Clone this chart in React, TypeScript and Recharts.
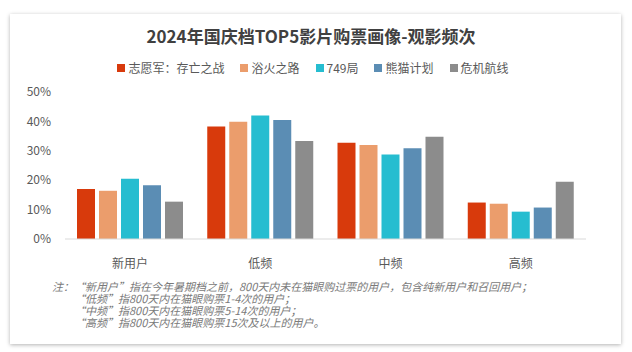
import { BarChart, Bar, XAxis, YAxis, Legend } from 'recharts';

const categories = ['新用户', '低频', '中频', '高频'];
const seriesNames = ['志愿军：存亡之战', '浴火之路', '749局', '熊猫计划', '危机航线'];
const zhiyuanjun = [17.0, 38.3, 32.7, 12.4];
const yuhuo = [16.4, 39.9, 32.0, 12.0];
const ju749 = [20.5, 42.0, 28.7, 9.3];
const xiongmao = [18.3, 40.5, 30.9, 10.7];
const weiji = [12.7, 33.3, 34.8, 19.5];
const yTicks = [0, 10, 20, 30, 40, 50];
const notes = [
  '注：“新用户”指在今年暑期档之前，800天内未在猫眼购过票的用户，包含纯新用户和召回用户；',
  '“低频”指800天内在猫眼购票1-4次的用户；',
  '“中频”指800天内在猫眼购票5-14次的用户；',
  '“高频”指800天内在猫眼购票15次及以上的用户。',
];

const COLORS = ['#d83a0c', '#eb9d6c', '#26bdd0', '#5b8db4', '#8c8c8c'];
const seriesValues = [zhiyuanjun, yuhuo, ju749, xiongmao, weiji];

const data = categories.map((name, i) => {
  const row: Record<string, string | number> = { name };
  seriesNames.forEach((s, j) => {
    row[s] = seriesValues[j][i];
  });
  return row;
});

const FONT = '"Noto Sans CJK SC", "Noto Sans", sans-serif';

function LegendContent() {
  return (
    <div style={{ display: 'flex', justifyContent: 'center', gap: 16, fontSize: 12, color: '#595959' }}>
      {seriesNames.map((s, i) => (
        <span key={s} style={{ display: 'flex', alignItems: 'center' }}>
          <span style={{ width: 8, height: 8, background: COLORS[i], marginRight: 3, display: 'inline-block' }} />
          {s}
        </span>
      ))}
    </div>
  );
}

export default function App() {
  return (
    <div style={{ position: 'absolute', left: 0, top: 0, width: 632, height: 352, background: '#fff', fontFamily: FONT }}>
      <div
        style={{
          position: 'absolute',
          left: 10,
          top: 14,
          width: 611,
          height: 330,
          background: '#fff',
          boxShadow: '0 1px 4px rgba(0,0,0,0.3)',
        }}
      />
      <div
        style={{
          position: 'absolute',
          top: 23,
          left: 0,
          width: 622,
          textAlign: 'center',
          fontSize: 17,
          fontWeight: 'bold',
          color: '#404040',
        }}
      >
        2024年国庆档TOP5影片购票画像-观影频次
      </div>
      <div style={{ position: 'absolute', left: 0, top: 0 }}>
        <BarChart
          width={632}
          height={352}
          data={data}
          margin={{ top: 92, right: 46, bottom: 83, left: 15 }}
          barSize={18}
          barGap={4}
        >
          <XAxis
            dataKey="name"
            axisLine={{ stroke: '#d9d9d9' }}
            tickLine={false}
            tickMargin={14}
            height={30}
            tick={{ fontSize: 12, fill: '#595959' }}
          />
          <YAxis
            domain={[0, 50]}
            ticks={yTicks}
            tickFormatter={(v) => `${v}%`}
            axisLine={false}
            tickLine={false}
            width={50}
            tickMargin={8}
            tick={{ fontSize: 12, fill: '#595959' }}
          />
          <Legend
            verticalAlign="middle"
            align="center"
            layout="horizontal"
            content={LegendContent}
            wrapperStyle={{ top: 59, left: 0, width: 626 }}
          />
          {seriesNames.map((s, i) => (
            <Bar key={s} dataKey={s} fill={COLORS[i]} isAnimationActive={false} />
          ))}
        </BarChart>
      </div>
      <div
        style={{
          position: 'absolute',
          left: 52,
          top: 280,
          fontSize: 11,
          lineHeight: '12px',
          fontStyle: 'italic',
          color: '#7a7a7a',
        }}
      >
        {notes.map((n, i) => (
          <div key={i} style={{ paddingLeft: i === 0 ? 0 : 22, height: 12 }}>
            {n}
          </div>
        ))}
      </div>
    </div>
  );
}
